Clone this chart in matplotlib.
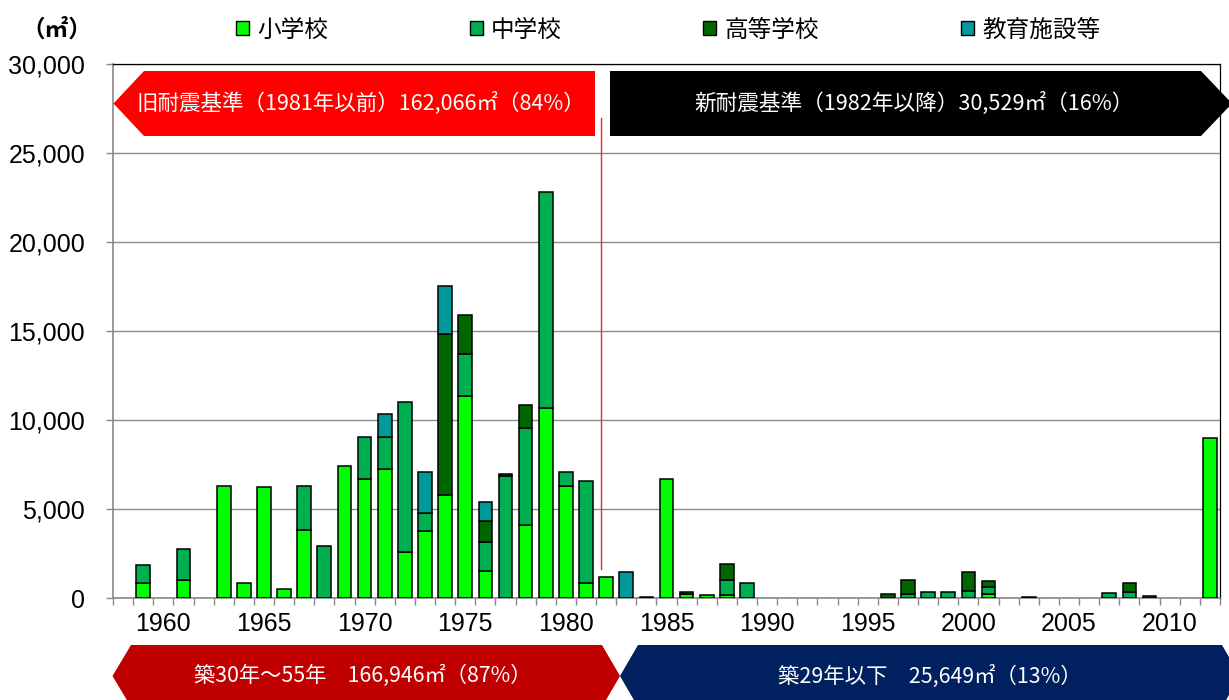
import matplotlib
matplotlib.use('Agg')
import matplotlib.pyplot as plt
from matplotlib.patches import Polygon, Patch
import numpy as np

plt.rcParams['font.family'] = ['Liberation Sans', 'Noto Sans CJK JP']

###--- data (floor area by year of construction, m2) ---###
years = list(range(1958, 2013))
series_names = ['小学校', '中学校', '高等学校', '教育施設等']
series_colors = ['#00FF00', '#00B050', '#006600', '#009999']

elementary = {1959: 830, 1961: 1000, 1963: 6300, 1964: 830, 1965: 6220, 1966: 500,
              1967: 3840, 1969: 7420, 1970: 6670, 1971: 7250, 1972: 2560, 1973: 3740,
              1974: 5810, 1975: 11360, 1976: 1510, 1978: 4080, 1979: 10650, 1980: 6320,
              1981: 820, 1982: 1170, 1984: 80, 1985: 6670, 1986: 210, 1987: 180,
              1988: 180, 2001: 250, 2012: 8980}
junior = {1959: 1040, 1961: 1730, 1967: 2470, 1968: 2900, 1970: 2380, 1971: 1800,
          1972: 8460, 1973: 1030, 1975: 2330, 1976: 1630, 1977: 6880, 1978: 5480,
          1979: 12160, 1980: 760, 1981: 5760, 1988: 820, 1989: 860, 1997: 250,
          1998: 350, 1999: 350, 2000: 420, 2001: 360, 2007: 270, 2008: 330}
high = {1974: 9040, 1975: 2210, 1976: 1200, 1977: 110, 1978: 1280, 1986: 130,
        1988: 900, 1996: 250, 1997: 770, 2000: 1030, 2001: 340, 2003: 80,
        2008: 530, 2009: 100}
other = {1971: 1280, 1973: 2310, 1974: 2670, 1976: 1030, 1983: 1450}

label_years = list(range(1960, 2011, 5))

top_texts = ['旧耐震基準（1981年以前）162,066㎡（84%）',
             '新耐震基準（1982年以降）30,529㎡（16%）']
bottom_texts = ['築30年～55年　166,946㎡（87%）',
                '築29年以下　25,649㎡（13%）']
unit_text = '（㎡）'

###--- figure ---###
W, H = 1229, 700
fig = plt.figure(figsize=(W/100, H/100), dpi=100)

def px(x, y):
    # pixel position (from top-left) -> figure fraction
    return (x/W, 1 - y/H)

ax = fig.add_axes([113/W, 1 - 598/H, (1220-113)/W, (598-64)/H])

bottom = {y: 0 for y in years}
for name, col, d in zip(series_names, series_colors, [elementary, junior, high, other]):
    xs = [y for y in years if d.get(y, 0) > 0]
    vals = [d[y] for y in xs]
    ax.bar(xs, vals, width=0.68, bottom=[bottom[y] for y in xs], color=col,
           edgecolor='black', linewidth=1.1, label=name, zorder=3)
    for y in xs:
        bottom[y] += d[y]

ax.set_xlim(1957.5, 2012.5)
ax.set_ylim(0, 30000)
ax.set_yticks(np.arange(0, 30001, 5000))
ax.set_yticklabels(['{:,}'.format(v) for v in range(0, 30001, 5000)])
ax.set_xticks(label_years)
ax.set_xticks(np.arange(1957.5, 2013, 1), minor=True)
ax.tick_params(axis='x', which='major', length=0, pad=10, labelsize=18)
ax.tick_params(axis='x', which='minor', length=5, width=1, color='#888888', direction='out')
ax.tick_params(axis='y', length=5, width=1, color='#888888', pad=15, labelsize=18)
ax.grid(axis='y', color='#8c8c8c', linewidth=1.0, zorder=0)
ax.set_axisbelow(True)
for s in ['left', 'bottom']:
    ax.spines[s].set_color('#888888')
    ax.spines[s].set_linewidth(1.2)
for s in ['top', 'right']:
    ax.spines[s].set_color('black')
    ax.spines[s].set_linewidth(0.9)

# boundary between old / new seismic standard
ax.axvline(1981.75, ymin=0.054, ymax=0.899, color='#FF2020', linewidth=1.0, zorder=4)

# legend
handles = [Patch(facecolor=c, edgecolor='black', linewidth=1.0) for c in series_colors]
fig.legend(handles, series_names, loc='center', bbox_to_anchor=px(668, 30), ncol=4,
           frameon=False, handlelength=0.55, handleheight=0.55,
           handletextpad=0.35, columnspacing=6.0, borderpad=0,
           prop={'family': 'Noto Sans CJK JP', 'size': 17})

fig.text(*px(57, 30), unit_text, ha='center', va='center', fontsize=17,
         fontweight='bold', family='Noto Sans CJK JP')

###--- arrows ---###
shapes = [
    ([(113.5, 103.5), (144, 71), (595, 71), (595, 136), (144, 136)], '#FF0000'),
    ([(610, 71), (1201, 71), (1232, 103.5), (1201, 136), (610, 136)], '#000000'),
    ([(112.5, 676), (131, 645), (602, 645), (620, 676), (602, 707), (131, 707)], '#C00000'),
    ([(620, 676), (638, 645), (1222, 645), (1240, 676), (1222, 707), (638, 707)], '#002060'),
]
for pts, col in shapes:
    fig.add_artist(Polygon([px(x, y) for x, y in pts], closed=True, facecolor=col,
                           edgecolor='none', transform=fig.transFigure, zorder=5))

fig.text(*px(361, 103), top_texts[0], ha='center', va='center', color='white',
         fontsize=15.5, family='Noto Sans CJK JP', zorder=6)
fig.text(*px(914, 103), top_texts[1], ha='center', va='center', color='white',
         fontsize=15.6, family='Noto Sans CJK JP', zorder=6)
fig.text(*px(363, 676), bottom_texts[0], ha='center', va='center', color='white',
         fontsize=15.3, family='Noto Sans CJK JP', zorder=6)
fig.text(*px(930, 676), bottom_texts[1], ha='center', va='center', color='white',
         fontsize=15.4, family='Noto Sans CJK JP', zorder=6)

fig.savefig('out.png', dpi=100)
